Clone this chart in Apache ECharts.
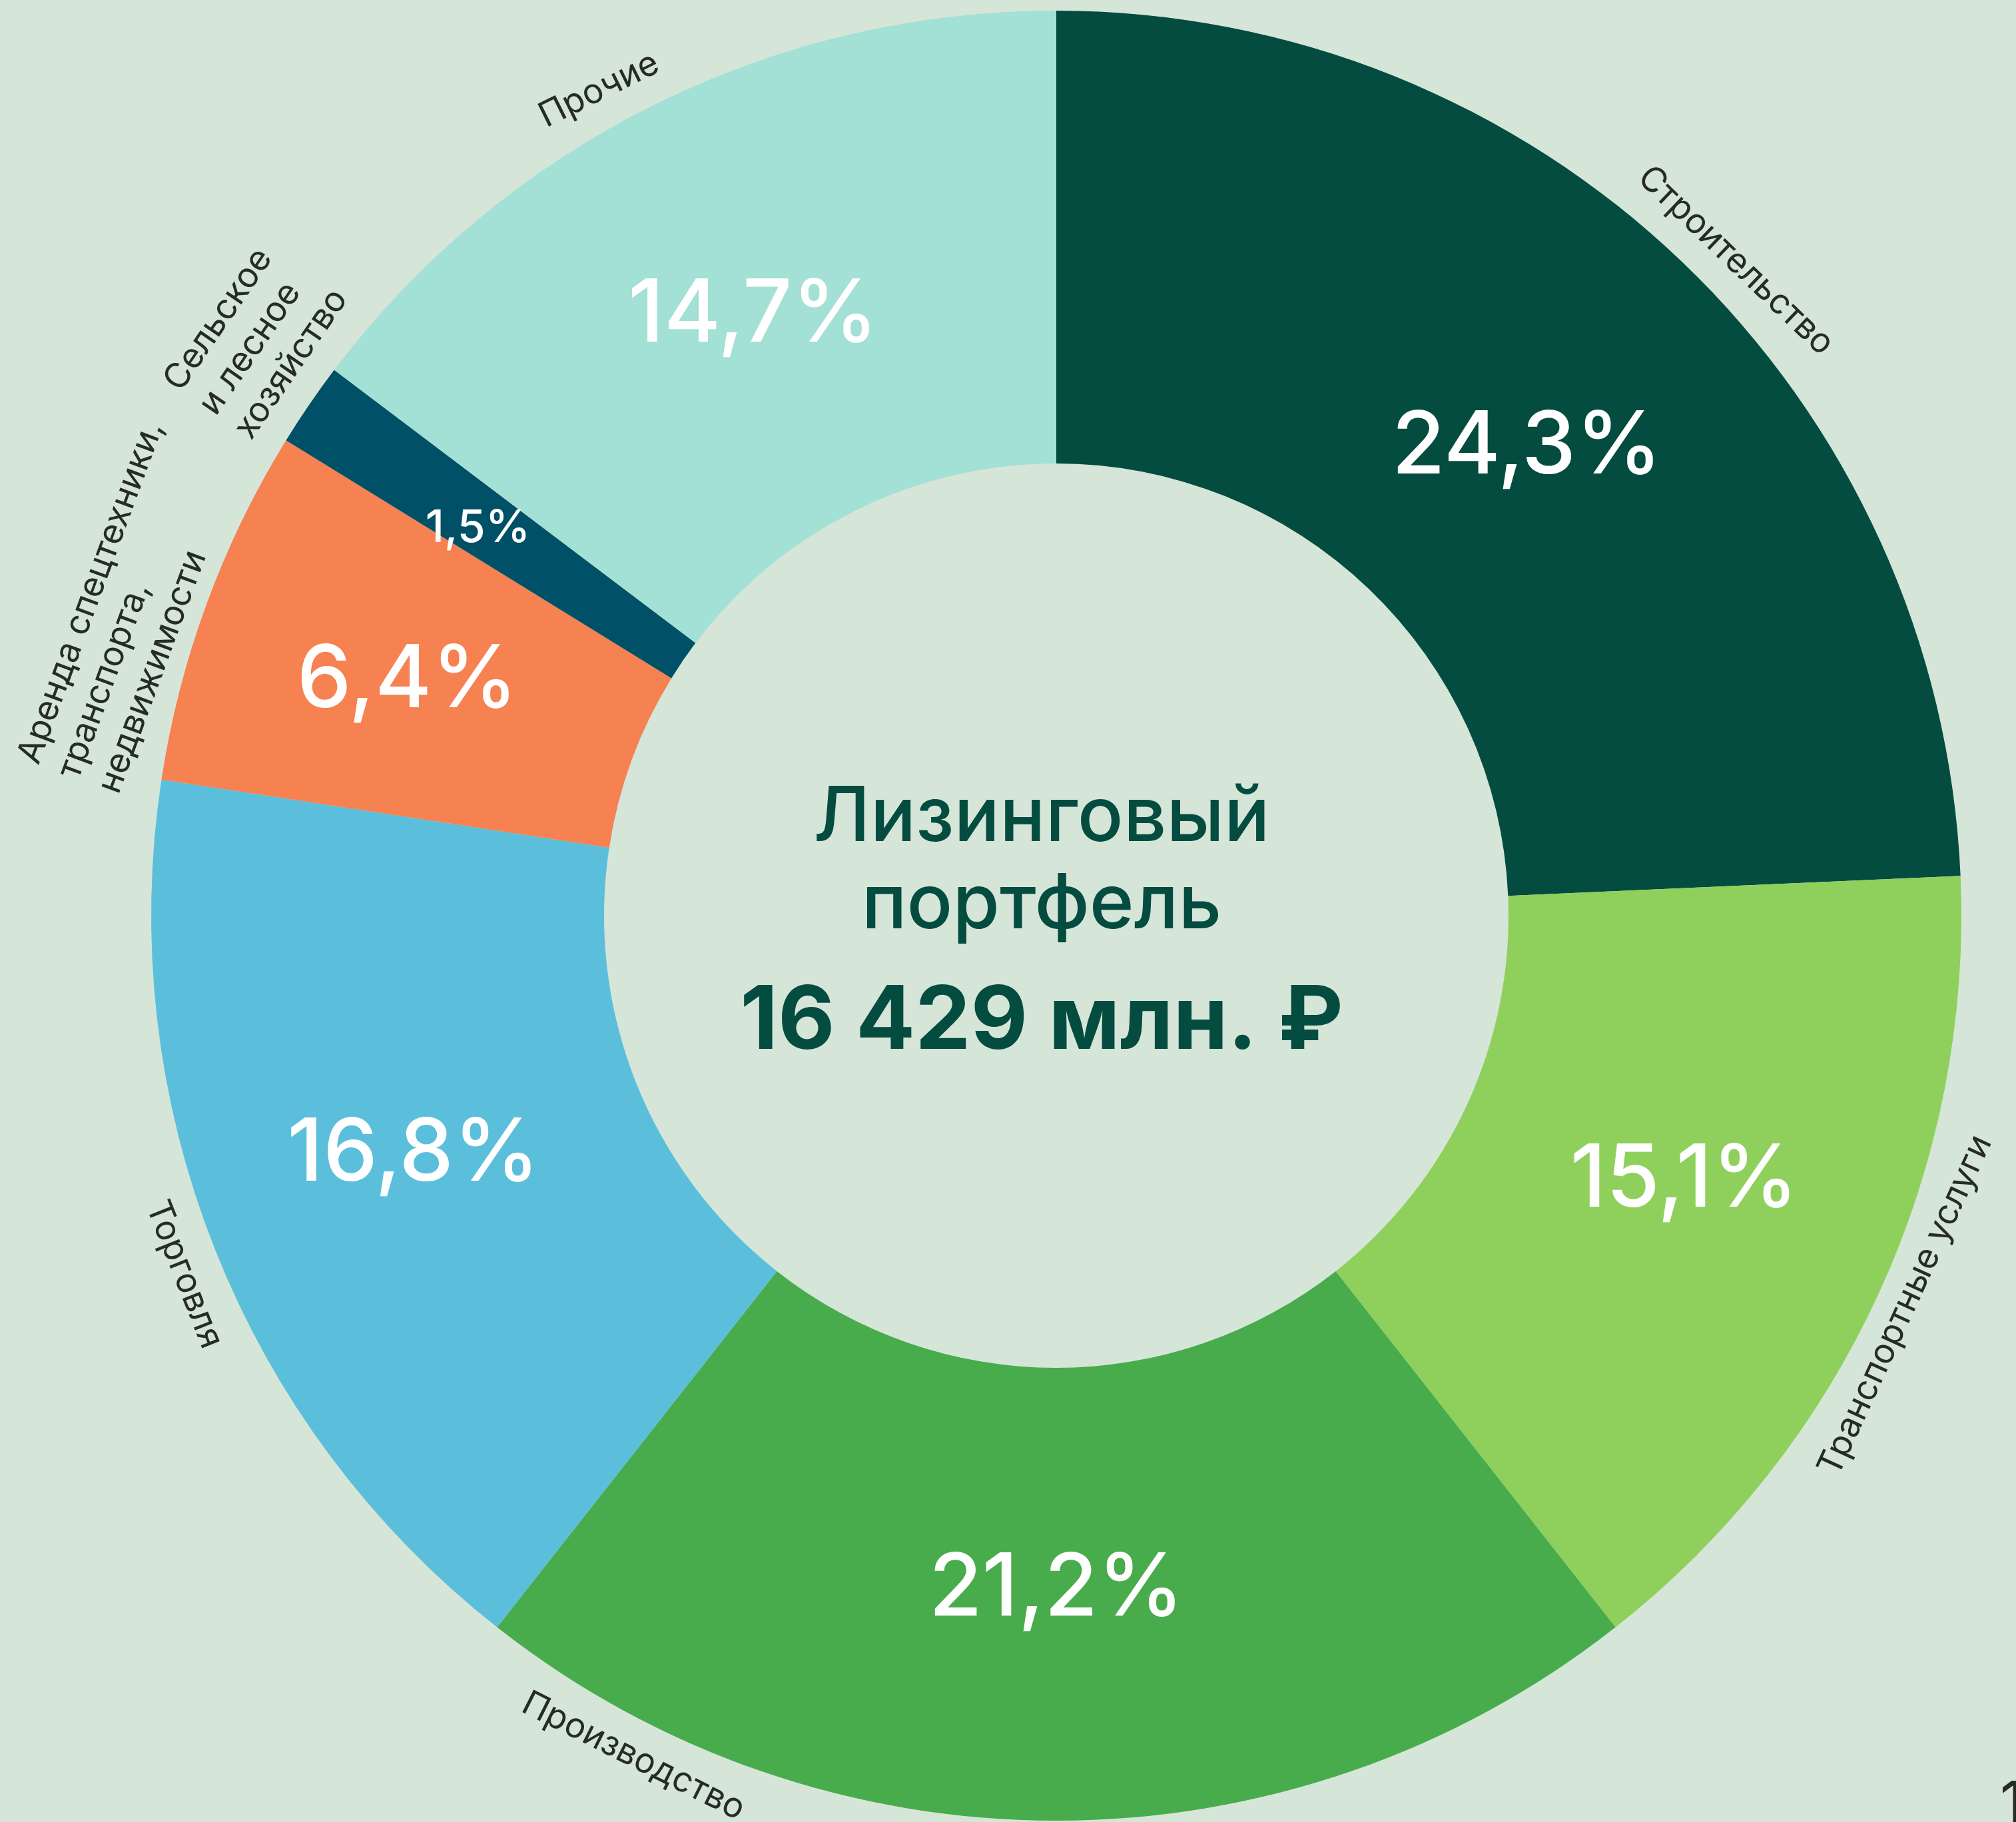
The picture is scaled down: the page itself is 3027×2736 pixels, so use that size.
<!DOCTYPE html>
<html>
<head>
<meta charset="utf-8">
<script src="https://cdn.jsdelivr.net/npm/echarts@6/dist/echarts.min.js"></script>
<style>
html, body { margin: 0; padding: 0; background: #d5e5d8; }
#chart { width: 3027px; height: 2736px; }
</style>
</head>
<body>
<div id="chart"></div>
<script>
// portfolio structure, % of total
var categories = [
	'Строительство',
	'Транспортные услуги',
	'Производство',
	'Торговля',
	'Аренда спецтехники,\nтранспорта,\nнедвижимости',
	'Сельское\nи лесное\nхозяйство',
	'Прочие'
];
var shares = [24.3, 15.1, 21.2, 16.8, 6.4, 1.5, 14.7];
var sliceColors = ['#034c3f', '#8fd05c', '#48ac4d', '#5bbfdc', '#f68151', '#005167', '#a3e0d5'];
var centerTitle = ['Лизинговый', 'портфель'];
var centerTotal = '16 429 млн. ₽';
var pageNumber = '1';

var chart = echarts.init(document.getElementById('chart'), null, { renderer: 'canvas' });

var center = [1586, 1375],
	innerR = 679,
	outerR = 1359,
	labelRing = [1359, 1467],
	labelLineH = 64,
	labelFont = 52,
	textColor = '#262b28',
	darkGreen = '#034c3f';

// small nudges of the hand placed labels of the original, as padding
// [top, right, bottom, left]; name labels use their own rotated frame
var pctPadding = {
	0: [70, 0, 0, 0],
	1: [0, 0, 56, 28],
	2: [0, 0, 20, 0],
	3: [0, 30, 34, 0],
	4: [0, 30, 0, 0],
	5: [0, 50, 8, 0],
	6: [28, 0, 0, 0]
};
var labelPadding = {
	0: [0, 0, 0, 114],
	1: [0, 0, 26, 0],
	3: [0, 0, 0, 38],
	4: [0, 88, 96, 0],
	5: [0, 0, 128, 70],
	6: [0, 124, 0, 0]
};

// Производство label does not fit at the bottom, the original moves it along the ring
var movedLabelIndex = 2,
	movedLabelAngle = 206.7;

var sliceData = [],
	labelData = [],
	i;

for (i = 0; i < shares.length; i++) {
	sliceData.push({
		name: categories[i],
		value: shares[i],
		itemStyle: { color: sliceColors[i] },
		label: { padding: pctPadding[i] || 0 }
	});

	labelData.push({
		name: categories[i],
		value: shares[i],
		label: { padding: labelPadding[i] || 0 }
	});
}

var option = {
	backgroundColor: '#d5e5d8',
	animation: false,
	series: [
		{
			type: 'pie',
			center: center,
			radius: [innerR, outerR],
			startAngle: 90,
			clockwise: true,
			avoidLabelOverlap: false,
			silent: true,
			itemStyle: { borderWidth: 0 },
			label: {
				show: true,
				position: 'inside',
				color: '#ffffff',
				fontFamily: 'Inter',
				fontWeight: 500,
				fontSize: 130,
				formatter: function (p) {
					var s = p.value.toFixed(1).replace('.', ',') + '%';
					return p.value < 3 ? '{s|' + s + '}' : '{p|' + s + '}';
				},
				rich: {
					p: { color: '#ffffff', fontFamily: 'Inter', fontWeight: 500, fontSize: 130, lineHeight: 150 },
					s: { color: '#ffffff', fontFamily: 'Inter', fontWeight: 500, fontSize: 68, lineHeight: 80 }
				}
			},
			labelLine: { show: false },
			data: sliceData
		},
		{
			// transparent ring that only carries the names
			type: 'pie',
			center: center,
			radius: labelRing,
			startAngle: 90,
			clockwise: true,
			avoidLabelOverlap: false,
			silent: true,
			itemStyle: { color: 'rgba(0,0,0,0)', borderWidth: 0 },
			label: {
				show: true,
				position: 'inside',
				rotate: 'tangential',
				color: textColor,
				fontFamily: 'Inter',
				fontSize: labelFont,
				lineHeight: labelLineH,
				formatter: function (p) {
					return p.name.split('\n').map(function (s) {
						return '{t|' + s + '}';
					}).join('\n');
				},
				rich: {
					t: {
						align: 'left',
						color: textColor,
						fontFamily: 'Inter',
						fontSize: labelFont,
						lineHeight: labelLineH
					}
				}
			},
			labelLayout: function (params) {
				if (params.dataIndex !== movedLabelIndex || params.seriesIndex !== 1) {
					return;
				}
				var a = movedLabelAngle * Math.PI / 180,
					r = (labelRing[0] + labelRing[1]) / 2;
				return {
					x: center[0] + Math.sin(a) * r,
					y: center[1] - Math.cos(a) * r,
					rotate: 180 - movedLabelAngle
				};
			},
			labelLine: { show: false },
			data: labelData
		}
	],
	graphic: [
		{
			type: 'text',
			x: 1564,
			y: 1229,
			style: {
				text: centerTitle[0],
				fill: darkGreen,
				font: '500 114px Inter',
				align: 'center',
				verticalAlign: 'middle'
			}
		},
		{
			type: 'text',
			x: 1564,
			y: 1360,
			style: {
				text: centerTitle[1],
				fill: darkGreen,
				font: '500 114px Inter',
				align: 'center',
				verticalAlign: 'middle'
			}
		},
		{
			type: 'text',
			x: 1564,
			y: 1535,
			style: {
				text: centerTotal,
				fill: darkGreen,
				font: 'bold 132px Inter',
				align: 'center',
				verticalAlign: 'middle'
			}
		},
		{
			type: 'text',
			x: 3003,
			y: 2668,
			style: {
				text: pageNumber,
				fill: textColor,
				font: '86px Inter',
				align: 'left',
				verticalAlign: 'top'
			}
		}
	]
};

chart.setOption(option);
</script>
</body>
</html>
